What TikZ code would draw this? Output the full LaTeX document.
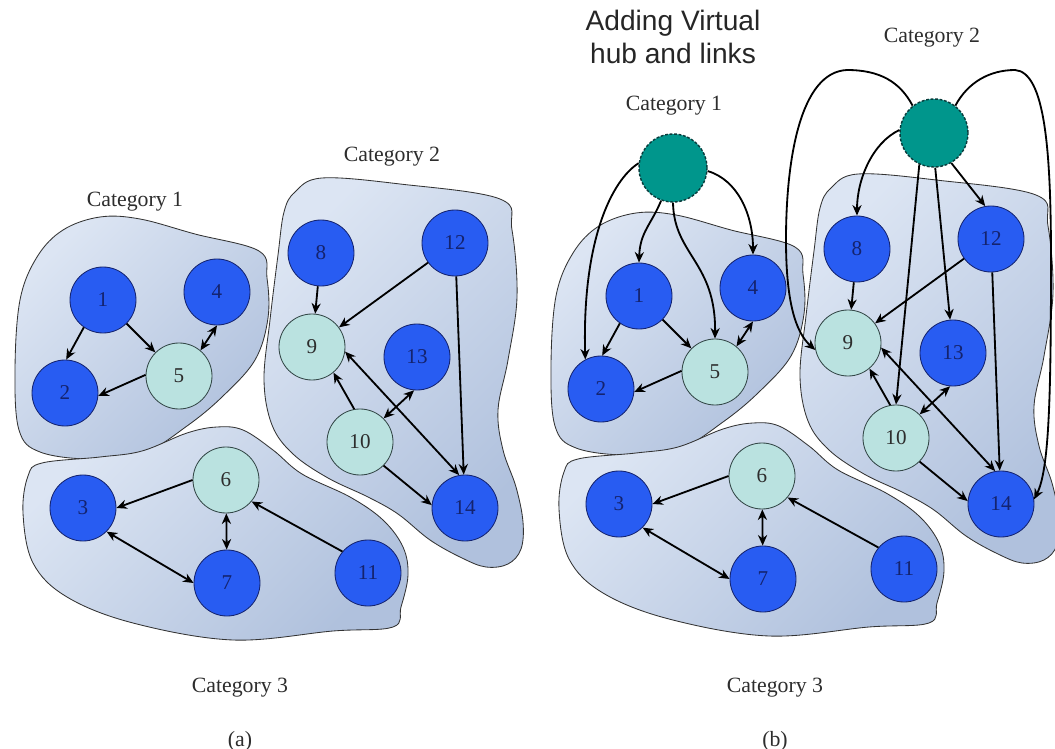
\documentclass[tikz,border=0pt]{standalone}
\usepackage{fontspec}
\setmainfont{Liberation Serif}
\newfontfamily\sansf{Liberation Sans}
\usetikzlibrary{arrows.meta}

\definecolor{nodeblue}{RGB}{40,92,242}
\definecolor{nodeblueedge}{RGB}{20,35,110}
\definecolor{nodelight}{RGB}{186,226,224}
\definecolor{nodelightedge}{RGB}{50,70,70}
\definecolor{hubteal}{RGB}{0,150,140}
\definecolor{hubedge}{RGB}{10,60,60}
\definecolor{blobA}{RGB}{220,229,243}
\definecolor{blobB}{RGB}{176,193,221}
\definecolor{labelgray}{RGB}{45,45,45}

\tikzset{
  blob/.style={draw=black!80, line width=0.6pt, top color=blobA, bottom color=blobB, shading angle=45},
  vertex/.style={circle, minimum size=1.65cm, inner sep=0pt, line width=0.6pt,
                 font=\fontsize{15}{18}\selectfont},
  bnode/.style={vertex, draw=nodeblueedge, fill=nodeblue, text=nodeblueedge},
  lnode/.style={vertex, draw=nodelightedge, fill=nodelight, text=labelgray},
  hub/.style={circle, minimum size=1.7cm, inner sep=0pt, fill=hubteal, draw=hubedge,
              line width=1pt, dash pattern=on 2pt off 1.2pt},
  arr/.style={line width=1.3pt, -{Stealth[length=7.5pt,width=6.5pt]}},
  arrb/.style={line width=1.3pt, {Stealth[length=7.5pt,width=6.5pt]}-{Stealth[length=7.5pt,width=6.5pt]}},
  catlabel/.style={anchor=base, text=labelgray, font=\fontsize{15.5}{18}\selectfont},
}

% three categories with their nodes and links; #1 prefixes the node names
\newcommand\drawcats[1]{%
  % Category 1 region
  \path[blob] plot[smooth cycle, tension=0.6] coordinates {
    (259,251) (267,278) (268,318) (255,360) (222,397) (187,426) (145,452) (92,459)
    (40,452) (19,430) (15,370) (20,300) (37,257) (63,230) (100,217) (140,219) (195,234)};
  % Category 2 region
  \path[blob] plot[smooth cycle, tension=0.6] coordinates {
    (295,192) (322,178) (400,184) (500,199) (512,230) (517,297) (508,360) (498,410)
    (503,450) (516,487) (523,522) (521,549) (508,564) (486,567) (462,558) (430,540)
    (398,514) (368,497) (328,478) (293,454) (272,425) (264,380) (270,320) (278,255) (284,212)};
  % Category 3 region
  \path[blob] plot[smooth cycle, tension=0.6] coordinates {
    (42,463) (100,457) (142,451) (187,433) (217,427) (243,430) (273,450) (302,474)
    (350,497) (383,520) (403,547) (408,575) (401,607) (393,627) (333,631) (233,640)
    (133,623) (67,597) (33,563) (23,513) (28,476)};
  % vertices
  \node[bnode] (#1n1)  at (103,300) {1};
  \node[bnode] (#1n2)  at (65,393)  {2};
  \node[bnode] (#1n4)  at (217,292) {4};
  \node[lnode] (#1n5)  at (179,376) {5};
  \node[bnode] (#1n3)  at (83,508)  {3};
  \node[lnode] (#1n6)  at (226,480) {6};
  \node[bnode] (#1n7)  at (227,583) {7};
  \node[bnode] (#1n11) at (368,573) {11};
  \node[bnode] (#1n8)  at (321,253) {8};
  \node[bnode] (#1n12) at (455,243) {12};
  \node[lnode] (#1n9)  at (312,347) {9};
  \node[bnode] (#1n13) at (417,357) {13};
  \node[lnode] (#1n10) at (360,442) {10};
  \node[bnode] (#1n14) at (465,508) {14};
  % links inside the categories
  \draw[arr]  (#1n1.235) -- (#1n2.88);
  \draw[arr]  (#1n1) -- (#1n5);
  \draw[arrb] (#1n5.50) -- (#1n4.south);
  \draw[arr]  (#1n5.178) -- (#1n2.-5);
  \draw[arr]  (#1n8) -- (#1n9);
  \draw[arr]  (#1n12) -- (#1n9);
  \draw[arr]  (#1n12) -- (#1n14);
  \draw[arrb] (#1n9.-8) -- (#1n14.100);
  \draw[arr]  (#1n10.100) -- (#1n9.-50);
  \draw[arrb] (#1n10.45) -- (#1n13.265);
  \draw[arr]  (#1n10.-45) -- (#1n14.175);
  \draw[arr]  (#1n6.west) -- (#1n3.east);
  \draw[arrb] (#1n6) -- (#1n7);
  \draw[arrb] (#1n3.-45) -- (#1n7.west);
  \draw[arr]  (#1n11.140) -- (#1n6.-40);
}

\begin{document}
\begin{tikzpicture}[x=0.025cm, y=-0.025cm]
  \useasboundingbox (0,0) rectangle (1055,749);
  \fill[white] (0,0) rectangle (1055,749);

  % (a) the categories as they are
  \drawcats{a}
  \node[catlabel] (ca1) at (135,207) {Category 1};
  \node[catlabel] (ca2) at (392,162) {Category 2};
  \node[catlabel] (ca3) at (240,692) {Category 3};
  \node[catlabel] (capa) at (240,746) {(a)};

  % (b) the same categories with virtual hubs added
  \begin{scope}[shift={(536,-4)}]
    \drawcats{b}
  \end{scope}
  \node[catlabel] (cb1) at (674,111) {Category 1};
  \node[catlabel] (cb2) at (932,43)  {Category 2};
  \node[catlabel] (cb3) at (775,692) {Category 3};
  \node[catlabel] (capb) at (775,746) {(b)};
  \node[align=center, text=black!85, font=\sansf\fontsize{20}{23}\selectfont] (title) at (673,37)
    {Adding Virtual\\hub and links};

  \node[hub] (h1) at (673,168) {};
  \node[hub] (h2) at (934,133) {};

  % virtual links of hub 1
  \draw[arr] (h1.250) .. controls (651,225) and (640,232) .. (bn1.north);
  \draw[arr] (h1.172) .. controls (612,180) and (582,240) .. (bn2.118);
  \draw[arr] (h1.south) .. controls (674,255) and (716,262) .. (bn5.north);
  \draw[arr] (h1.355) .. controls (738,180) and (753,215) .. (bn4.north);

  % virtual links of hub 2
  \draw[arr] (h2.175) .. controls (872,143) and (857,180) .. (bn8.north);
  \draw[arr] (h2.300) -- (bn12.100);
  \draw[arr] (h2.272) -- (bn13.95);
  \draw[arr] (h2.245) -- (bn10.north);
  \draw[arr] (h2.128) .. controls (900,82) and (880,70) .. (847,70)
                     .. controls (800,72) and (786,160) .. (786,240)
                     .. controls (786,300) and (795,332) .. (bn9.192);
  \draw[arr] (h2.52) .. controls (968,82) and (990,70) .. (1015,70)
                    .. controls (1045,72) and (1051,150) .. (1051,260)
                    .. controls (1051,400) and (1049,470) .. (bn14.8);
\end{tikzpicture}
\end{document}
